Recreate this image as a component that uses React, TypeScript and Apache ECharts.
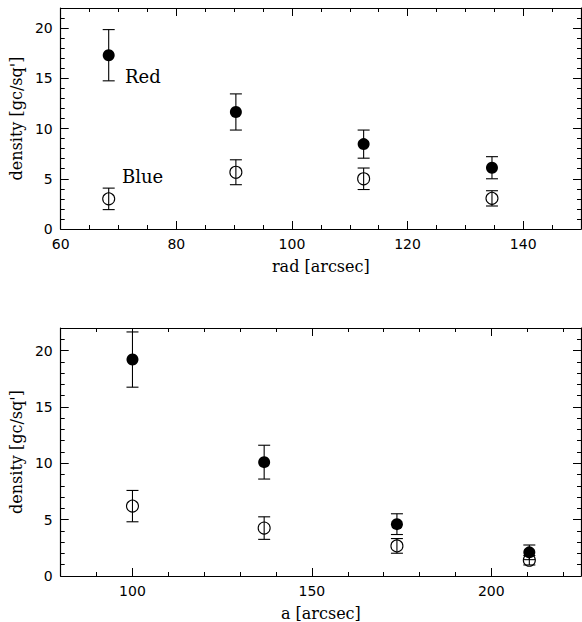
import React, { useEffect, useRef } from "react";
import * as echarts from "echarts";

// Top panel: density vs rad
const topRad = [68.3, 90.3, 112.4, 134.6];
const topRed = [17.3, 11.65, 8.45, 6.1];
const topRedErr = [2.55, 1.8, 1.4, 1.1];
const topBlue = [3.0, 5.65, 5.0, 3.05];
const topBlueErr = [1.07, 1.24, 1.07, 0.76];

// Bottom panel: density vs a
const botA = [100, 136.7, 173.7, 210.6];
const botRed = [19.2, 10.1, 4.6, 2.1];
const botRedErr = [2.45, 1.5, 0.92, 0.65];
const botBlue = [6.2, 4.25, 2.67, 1.4];
const botBlueErr = [1.39, 1.0, 0.65, 0.42];

const topXMajor = [60, 80, 100, 120, 140];
const topXMinor = [65, 70, 75, 85, 90, 95, 105, 110, 115, 125, 130, 135, 145];
const botXMajor = [100, 150, 200];
const botXMinor = [90, 110, 120, 130, 140, 160, 170, 180, 190, 210, 220];
const yMajor = [0, 5, 10, 15, 20];
const yMinor = [1, 2, 3, 4, 6, 7, 8, 9, 11, 12, 13, 14, 16, 17, 18, 19, 21];

const AX = "#000";
const TICK_FONT = "DejaVu Sans";
const NAME_FONT = "DejaVu Serif";

function xAxes(grid: number, min: number, max: number, major: number[], minor: number[], name: string) {
  const base = { type: "value", gridIndex: grid, min, max, splitLine: { show: false } };
  return [
    {
      ...base,
      position: "bottom",
      name,
      nameLocation: "middle",
      nameGap: 29,
      nameTextStyle: { color: AX, fontFamily: NAME_FONT, fontSize: 16 },
      axisLine: { show: true, onZero: false, lineStyle: { color: AX, width: 1.2 } },
      axisTick: { show: true, inside: true, length: 8, customValues: major, lineStyle: { color: AX } },
      axisLabel: { show: true, customValues: major, color: AX, fontFamily: TICK_FONT, fontSize: 14, margin: 8 },
    },
    {
      ...base,
      position: "bottom",
      axisLine: { show: false, onZero: false },
      axisTick: { show: true, inside: true, length: 4, customValues: minor, lineStyle: { color: AX } },
      axisLabel: { show: false },
    },
    {
      ...base,
      position: "top",
      axisLine: { show: true, onZero: false, lineStyle: { color: AX, width: 1.2 } },
      axisTick: { show: true, inside: true, length: 8, customValues: major, lineStyle: { color: AX } },
      axisLabel: { show: false },
    },
    {
      ...base,
      position: "top",
      axisLine: { show: false, onZero: false },
      axisTick: { show: true, inside: true, length: 4, customValues: minor, lineStyle: { color: AX } },
      axisLabel: { show: false },
    },
  ];
}

function yAxes(grid: number) {
  const base = { type: "value", gridIndex: grid, min: 0, max: 22, splitLine: { show: false } };
  return [
    {
      ...base,
      position: "left",
      name: "density [gc/sq']",
      nameLocation: "middle",
      nameGap: 35,
      nameTextStyle: { color: AX, fontFamily: NAME_FONT, fontSize: 16 },
      axisLine: { show: true, onZero: false, lineStyle: { color: AX, width: 1.2 } },
      axisTick: { show: true, inside: true, length: 8, customValues: yMajor, lineStyle: { color: AX } },
      axisLabel: { show: true, customValues: yMajor, color: AX, fontFamily: TICK_FONT, fontSize: 14, margin: 8 },
    },
    {
      ...base,
      position: "left",
      axisLine: { show: false, onZero: false },
      axisTick: { show: true, inside: true, length: 4, customValues: yMinor, lineStyle: { color: AX } },
      axisLabel: { show: false },
    },
    {
      ...base,
      position: "right",
      axisLine: { show: true, onZero: false, lineStyle: { color: AX, width: 1.2 } },
      axisTick: { show: true, inside: true, length: 8, customValues: yMajor, lineStyle: { color: AX } },
      axisLabel: { show: false },
    },
    {
      ...base,
      position: "right",
      axisLine: { show: false, onZero: false },
      axisTick: { show: true, inside: true, length: 4, customValues: yMinor, lineStyle: { color: AX } },
      axisLabel: { show: false },
    },
  ];
}

function errSeries(xs: number[], ys: number[], errs: number[], xi: number, yi: number) {
  return {
    type: "custom",
    xAxisIndex: xi,
    yAxisIndex: yi,
    silent: true,
    encode: { x: 0, y: [1, 2] },
    data: xs.map((x, i) => [x, ys[i] - errs[i], ys[i] + errs[i]]),
    renderItem: (_params: any, api: any) => {
      const x = api.value(0);
      const lo = api.coord([x, api.value(1)]);
      const hi = api.coord([x, api.value(2)]);
      const w = 6;
      const st = { stroke: "#000", lineWidth: 1.1 };
      return {
        type: "group",
        children: [
          { type: "line", shape: { x1: hi[0], y1: hi[1], x2: lo[0], y2: lo[1] }, style: st },
          { type: "line", shape: { x1: hi[0] - w, y1: hi[1], x2: hi[0] + w, y2: hi[1] }, style: st },
          { type: "line", shape: { x1: lo[0] - w, y1: lo[1], x2: lo[0] + w, y2: lo[1] }, style: st },
        ],
      };
    },
  };
}

function pointSeries(xs: number[], ys: number[], filled: boolean, xi: number, yi: number) {
  return {
    type: "scatter",
    xAxisIndex: xi,
    yAxisIndex: yi,
    symbol: "circle",
    symbolSize: 12,
    silent: true,
    z: 3,
    itemStyle: filled
      ? { color: "#000", borderWidth: 0, opacity: 1 }
      : { color: "rgba(0,0,0,0)", borderColor: "#000", borderWidth: 1.1, opacity: 1 },
    data: xs.map((x, i) => [x, ys[i]]),
  };
}

export default function App() {
  const ref = useRef<HTMLDivElement>(null);
  useEffect(() => {
    if (!ref.current) return;
    const chart = echarts.init(ref.current, null, { renderer: "svg" });
    chart.setOption({
      animation: false,
      backgroundColor: "#fff",
      grid: [
        { left: 60, top: 8, width: 521, height: 221, containLabel: false },
        { left: 60, top: 328, width: 521, height: 248, containLabel: false },
      ],
      xAxis: [
        ...xAxes(0, 60, 150, topXMajor, topXMinor, "rad [arcsec]"),
        ...xAxes(1, 80, 225, botXMajor, botXMinor, "a [arcsec]"),
      ],
      yAxis: [...yAxes(0), ...yAxes(1)],
      series: [
        errSeries(topRad, topRed, topRedErr, 0, 0),
        errSeries(topRad, topBlue, topBlueErr, 0, 0),
        pointSeries(topRad, topRed, true, 0, 0),
        pointSeries(topRad, topBlue, false, 0, 0),
        errSeries(botA, botRed, botRedErr, 4, 4),
        errSeries(botA, botBlue, botBlueErr, 4, 4),
        pointSeries(botA, botRed, true, 4, 4),
        pointSeries(botA, botBlue, false, 4, 4),
      ],
      graphic: [
        {
          type: "text",
          left: 125,
          top: 67,
          style: { text: "Red", fill: "#000", font: `18px '${NAME_FONT}'` },
        },
        {
          type: "text",
          left: 122,
          top: 167,
          style: { text: "Blue", fill: "#000", font: `18px '${NAME_FONT}'` },
        },
      ],
    });
    return () => chart.dispose();
  }, []);
  return (
    <div
      ref={ref}
      style={{ position: "fixed", left: 0, top: 0, width: 582, height: 622, background: "#fff" }}
    />
  );
}
